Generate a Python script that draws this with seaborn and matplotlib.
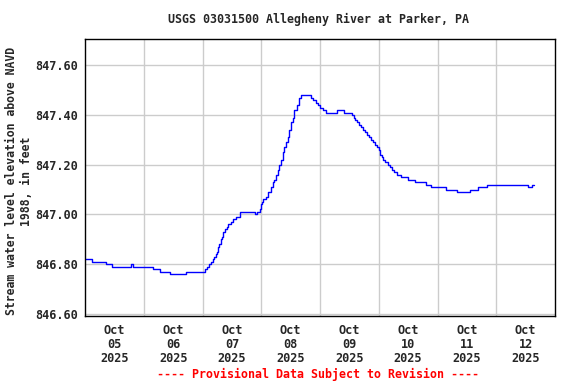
import seaborn as sns, matplotlib.pyplot as plt
import matplotlib.dates as mdates
import pandas as pd
from matplotlib.ticker import FixedLocator, FormatStrFormatter

sns.set_style('white')
plt.rcParams['font.family'] = ['DejaVu Sans Mono']
plt.rcParams['font.weight'] = 'bold'

# hours after 2025-10-05 00:00 where the gage height steps to a new value
hours = [0.0, 3.0, 8.6, 11.2, 18.7, 19.7, 27.9, 30.6, 34.7, 41.3,
         49.0, 50.0, 50.8, 51.5, 52.2, 52.8, 53.4, 53.8, 54.2, 54.7,
         55.4, 55.8, 56.5, 57.2, 57.9, 58.5, 59.5, 60.6, 61.7, 63.3,
         69.4, 70.4, 71.5, 71.9, 72.4, 72.8, 73.9, 74.9, 75.9, 76.7,
         77.3, 78.0, 78.7, 79.4, 80.1, 80.8, 81.4, 82.1, 82.8, 83.5,
         84.1, 84.8, 85.5, 86.5, 87.4, 88.2, 92.2, 93.3, 94.4, 95.3,
         96.0, 97.3, 98.5, 102.8, 105.8, 109.0, 109.8, 110.5, 111.3, 112.1,
         112.8, 113.6, 114.4, 115.2, 116.0, 116.8, 117.6, 118.4, 119.2, 120.0,
         120.6, 121.2, 121.9, 122.6, 123.9, 124.6, 125.5, 126.2, 127.4, 129.0,
         132.1, 134.8, 139.3, 141.3, 147.5, 151.8, 157.3, 160.7, 164.3, 180.8,
         182.5, 183.5]
level = [846.82, 846.81, 846.80, 846.79, 846.80, 846.79, 846.78, 846.77, 846.76, 846.77,
         846.78, 846.79, 846.80, 846.81, 846.82, 846.83, 846.84, 846.85, 846.87, 846.88,
         846.90, 846.91, 846.93, 846.94, 846.95, 846.96, 846.97, 846.98, 846.99, 847.01,
         847.00, 847.01, 847.02, 847.04, 847.05, 847.06, 847.07, 847.09, 847.11, 847.13,
         847.14, 847.16, 847.18, 847.20, 847.22, 847.25, 847.27, 847.29, 847.31, 847.34,
         847.37, 847.39, 847.42, 847.44, 847.47, 847.48, 847.47, 847.46, 847.45, 847.44,
         847.43, 847.42, 847.41, 847.42, 847.41, 847.40, 847.39, 847.38, 847.37, 847.36,
         847.35, 847.34, 847.33, 847.32, 847.31, 847.30, 847.29, 847.28, 847.27, 847.26,
         847.24, 847.23, 847.22, 847.21, 847.20, 847.19, 847.18, 847.17, 847.16,
         847.15, 847.14, 847.13, 847.12, 847.11, 847.10, 847.09, 847.10, 847.11, 847.12,
         847.11, 847.12]
level = level + [level[-1]]

day_labels = ['Oct\n05\n2025', 'Oct\n06\n2025', 'Oct\n07\n2025', 'Oct\n08\n2025',
              'Oct\n09\n2025', 'Oct\n10\n2025', 'Oct\n11\n2025', 'Oct\n12\n2025']
y_ticks = [846.60, 846.80, 847.00, 847.20, 847.40, 847.60]

start = pd.Timestamp('2025-10-05 00:00')
df = pd.DataFrame({'time': start + pd.to_timedelta(hours, unit='h'), 'level': level})

fig = plt.figure(figsize=(5.76, 3.84), dpi=100)
ax = fig.add_axes([85/576, 1-316/384, 470/576, 277/384])

sns.lineplot(data=df, x='time', y='level', ax=ax, color='#0000ff', lw=1,
             drawstyle='steps-post', estimator=None)

ax.set_xlim(start, start + pd.Timedelta(days=8))
ax.set_ylim(846.591, 847.706)

# gridlines at midnight, labels at noon
midnights = [mdates.date2num(start + pd.Timedelta(days=i)) for i in range(1, 8)]
noons = [mdates.date2num(start + pd.Timedelta(hours=12 + 24*i)) for i in range(8)]
ax.xaxis.set_major_locator(FixedLocator(noons))
ax.set_xticklabels(day_labels, linespacing=1.1)
ax.xaxis.set_minor_locator(FixedLocator(midnights))
ax.yaxis.set_major_locator(FixedLocator(y_ticks))
ax.yaxis.set_major_formatter(FormatStrFormatter('%.2f'))

ax.grid(False)
ax.grid(True, which='minor', axis='x', color='#cccccc', lw=1)
ax.grid(True, which='major', axis='y', color='#cccccc', lw=1)
ax.set_axisbelow(True)
ax.tick_params(axis='both', which='both', length=0, labelsize=8.6)
ax.tick_params(axis='x', pad=6)
ax.tick_params(axis='y', pad=5)
ax.set_xlabel('')
ax.set_ylabel('')
for s in ax.spines.values():
    s.set_color('black')
    s.set_linewidth(1)

fig.text(318/576, 1-19/384, 'USGS 03031500 Allegheny River at Parker, PA',
         ha='center', va='center', fontsize=8.4, fontweight='bold')
fig.text(19/576, 1-181/384, 'Stream water level elevation above NAVD\n1988, in feet',
         ha='center', va='center', rotation=90, fontsize=8.3, fontweight='bold',
         multialignment='center', linespacing=1.25)
fig.text(318/576, 1-374.5/384, '---- Provisional Data Subject to Revision ----',
         ha='center', va='center', fontsize=8.4, fontweight='bold', color='red')

fig.savefig('out.png', dpi=100)
